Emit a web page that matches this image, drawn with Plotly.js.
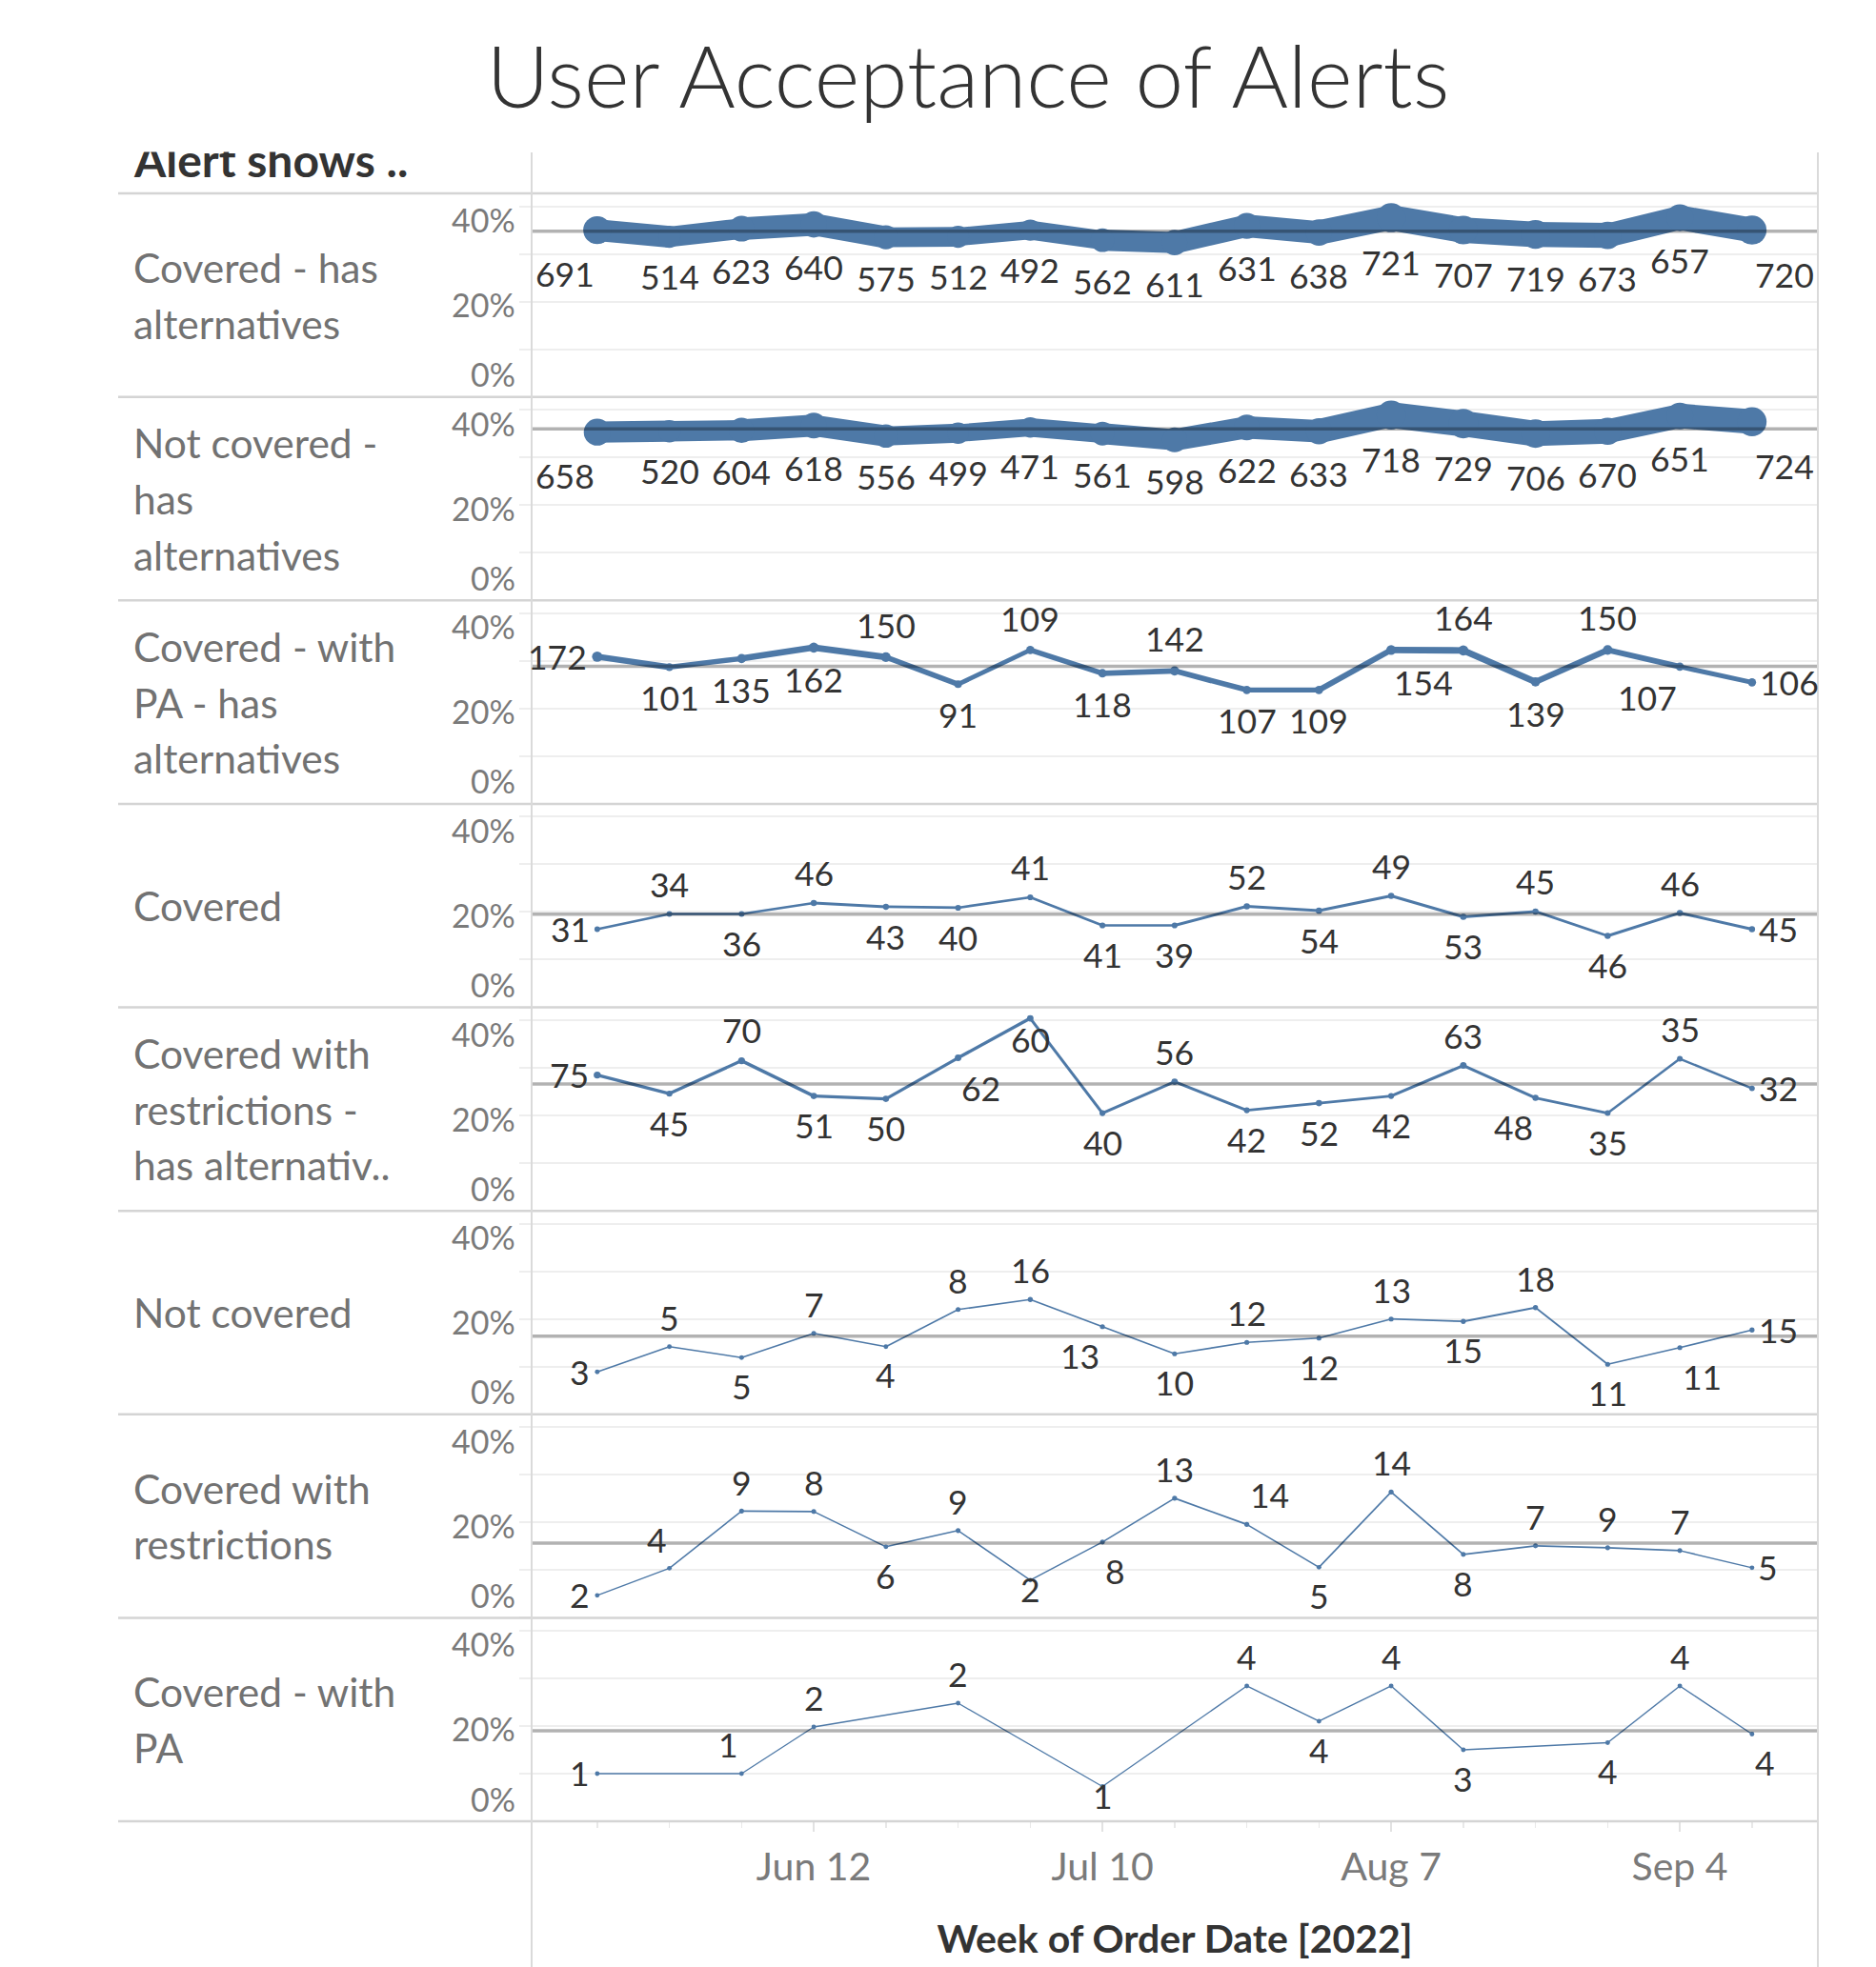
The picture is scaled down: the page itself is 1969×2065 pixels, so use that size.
<!DOCTYPE html>
<html>
<head>
<meta charset="utf-8">
<script src="https://cdn.plot.ly/plotly-3.0.1.min.js"></script>
<style>html,body{margin:0;padding:0;background:#fff;}#chart{width:1969px;height:2065px;}</style>
</head>
<body>
<div id="chart"></div>
<script>
// ---------------- DATA ----------------
const weeks = ['2022-05-22','2022-05-29','2022-06-05','2022-06-12','2022-06-19','2022-06-26','2022-07-03','2022-07-10','2022-07-17','2022-07-24','2022-07-31','2022-08-07','2022-08-14','2022-08-21','2022-08-28','2022-09-04','2022-09-11'];
const weeksCoveredPA = ['2022-05-22','2022-06-05','2022-06-12','2022-06-26','2022-07-10','2022-07-24','2022-07-31','2022-08-07','2022-08-14','2022-08-28','2022-09-04','2022-09-11'];

const categories = ['Covered - has alternatives','Not covered - has alternatives','Covered - with PA - has alternatives','Covered','Covered with restrictions - has alternativ..','Not covered','Covered with restrictions','Covered - with PA'];
const categoryLines = [
  ['Covered - has','alternatives'],
  ['Not covered -','has','alternatives'],
  ['Covered - with','PA - has','alternatives'],
  ['Covered'],
  ['Covered with','restrictions -','has alternativ..'],
  ['Not covered'],
  ['Covered with','restrictions'],
  ['Covered - with','PA']
];

// percentage of alerts accepted (y) and number of alerts (labels / size)
const pctCoveredHasAlt     = [35.0,33.6,35.3,36.2,33.5,33.6,35.0,32.9,32.4,35.9,34.5,37.6,35.0,34.1,33.9,37.6,35.0];
const cntCoveredHasAlt     = [691,514,623,640,575,512,492,562,611,631,638,721,707,719,673,657,720];
const pctNotCoveredHasAlt  = [35.3,35.5,35.7,36.7,34.5,35.1,36.3,35.0,33.7,36.3,35.5,38.9,37.1,35.0,35.5,38.7,37.5];
const cntNotCoveredHasAlt  = [658,520,604,618,556,499,471,561,598,622,633,718,729,706,670,651,724];
const pctCoveredPAHasAlt   = [30.9,28.7,30.5,32.8,30.8,25.1,32.3,27.4,27.9,23.9,23.9,32.3,32.2,25.6,32.3,28.8,25.5];
const cntCoveredPAHasAlt   = [172,101,135,162,150,91,109,118,142,107,109,154,164,139,150,107,106];
const pctCovered           = [16.4,19.6,19.6,21.9,21.1,20.9,23.1,17.2,17.2,21.2,20.3,23.4,19.0,20.1,15.0,19.8,16.4];
const cntCovered           = [31,34,36,46,43,40,41,41,39,52,54,49,53,45,46,46,45];
const pctCoveredRestrHasAlt= [28.5,24.6,31.5,24.1,23.5,32.1,40.4,20.5,27.1,21.1,22.6,24.1,30.5,23.7,20.5,31.9,25.7];
const cntCoveredRestrHasAlt= [75,45,70,51,50,62,60,40,56,42,52,42,63,48,35,35,32];
const pctNotCovered        = [8.9,14.2,11.9,17.0,14.2,22.0,24.1,18.4,12.7,15.1,16.0,20.0,19.5,22.4,10.5,14.0,17.7];
const cntNotCovered        = [3,5,5,7,4,8,16,13,10,12,12,13,15,18,11,11,15];
const pctCoveredRestr      = [4.7,10.4,22.4,22.3,14.9,18.3,7.9,15.9,25.1,19.6,10.6,26.4,13.3,15.1,14.7,14.1,10.5];
const cntCoveredRestr      = [2,4,9,8,6,9,2,8,13,14,5,14,8,7,9,7,5];
const pctCoveredPA         = [10.0,10.0,19.8,24.8,7.3,28.4,21.0,28.4,15.0,16.5,28.4,18.3];
const cntCoveredPA         = [1,1,2,2,1,4,4,4,3,4,4,4];

const yTickVals = [0.4, 0.2, 0];
const yTickText = ['40%','20%','0%'];
const xTickVals = ['2022-06-12','2022-07-10','2022-08-07','2022-09-04'];

// label placement (style only)
const posA = ['bl','b','b','b','b','b','b','b','b','b','b','b','b','b','b','b','br'];
const posB = ['bl','b','b','b','b','b','b','b','b','b','b','b','b','b','b','b','br'];
const posC = ['l','b','b','b','t','b','t','b','t','b','b','br','t','b','t','bl','r'];
const posD = ['l','t','b','t','b','b','t','b','b','t','b','t','b','t','b','t','r'];
const posE = ['l','b','t','b','b','br','ob','b','t','b','b','b','t','bl','b','t','r'];
const posF = ['l','t','b','t','b','t','t','bl','b','t','b','t','b','t','b','br','r'];
const posG = ['l','tl','t','t','b','t','o','br','t','tr','b','t','b','t','t','t','r'];
const posH = ['l','tl','t','t','o','t','b','t','b','b','t','br'];

// ---------------- BUILD ----------------
const panels = [
  {x: weeks, p: pctCoveredHasAlt, c: cntCoveredHasAlt, pos: posA},
  {x: weeks, p: pctNotCoveredHasAlt, c: cntNotCoveredHasAlt, pos: posB},
  {x: weeks, p: pctCoveredPAHasAlt, c: cntCoveredPAHasAlt, pos: posC},
  {x: weeks, p: pctCovered, c: cntCovered, pos: posD},
  {x: weeks, p: pctCoveredRestrHasAlt, c: cntCoveredRestrHasAlt, pos: posE},
  {x: weeks, p: pctNotCovered, c: cntNotCovered, pos: posF},
  {x: weeks, p: pctCoveredRestr, c: cntCoveredRestr, pos: posG},
  {x: weeksCoveredPA, p: pctCoveredPA, c: cntCoveredPA, pos: posH}
];

const BLUE = '#4e79a7';
const FONT = 'Lato, "Open Sans", sans-serif';
const allCounts = panels.flatMap(d => d.c);
const cMin = Math.min(...allCounts), cMax = Math.max(...allCounts);
const lineW = c => 1.3 + 26 * (c - cMin) / (cMax - cMin);
const markS = c => lineW(c) + 3.5;

const N = panels.length;
const traces = [];
const annotations = [];
const shapes = [];
const layout = {
  width: 1969, height: 2065,
  paper_bgcolor: '#ffffff', plot_bgcolor: 'rgba(0,0,0,0)',
  showlegend: false,
  margin: {l: 558, r: 61, t: 203, b: 153, pad: 0},
  hovermode: false,
  title: {
    text: 'User Acceptance of Alerts',
    font: {family: FONT, size: 91, weight: 300, color: '#333333'},
    x: 1016/1969, xref: 'container', xanchor: 'center',
    y: 1 - 81/2065, yref: 'container', yanchor: 'middle'
  },
  xaxis: {
    type: 'date', anchor: 'y8', domain: [0, 1],
    range: ['2022-05-15 15:20', '2022-09-17 09:20'],
    tickmode: 'array', tickvals: xTickVals, tickformat: '%b %-d',
    tickfont: {family: FONT, size: 41, color: '#7a7a7a'},
    ticks: 'outside', ticklen: 10, tickwidth: 1.5, tickcolor: '#e2e2e2', ticklabelstandoff: 2,
    minor: {dtick: 7*86400000, tick0: '2022-05-22', ticks: 'outside', ticklen: 6, tickwidth: 1.5, tickcolor: '#e8e8e8', showgrid: false},
    showgrid: false, zeroline: false, showline: false, automargin: false,
    title: {text: 'Week of Order Date [2022]', font: {family: FONT, size: 41, weight: 'bold', color: '#333333'}, standoff: 39}
  }
};

panels.forEach((d, k) => {
  const ax = k === 0 ? 'y' : 'y' + (k + 1);
  const axName = k === 0 ? 'yaxis' : 'yaxis' + (k + 1);
  layout[axName] = {
    domain: [1 - (k + 1)/N, 1 - k/N], anchor: 'x',
    range: [0, 0.4272], tick0: 0, dtick: 0.1,
    showticklabels: false, ticks: 'outside', ticklen: 12, tickwidth: 2, tickcolor: '#eeeeee',
    showgrid: true, gridcolor: '#eeeeee', gridwidth: 2,
    zeroline: false, showline: false, fixedrange: true
  };
  const y = d.p.map(v => v / 100);
  // segments with width from size encoding
  for (let i = 0; i < d.x.length - 1; i++) {
    traces.push({
      type: 'scatter', mode: 'lines', x: [d.x[i], d.x[i+1]], y: [y[i], y[i+1]],
      xaxis: 'x', yaxis: ax, hoverinfo: 'skip', opacity: 1,
      line: {color: BLUE, width: (lineW(d.c[i]) + lineW(d.c[i+1])) / 2}
    });
  }
  traces.push({
    type: 'scatter', mode: 'markers', x: d.x, y: y, xaxis: 'x', yaxis: ax, hoverinfo: 'skip', opacity: 1,
    marker: {color: BLUE, size: d.c.map(markS), opacity: 1, line: {width: 0}}
  });
  // average reference line
  const mean = y.reduce((a, b) => a + b, 0) / y.length;
  shapes.push({type: 'line', xref: 'paper', x0: 0, x1: 1, yref: ax, y0: mean, y1: mean,
    line: {color: 'rgba(0,0,0,0.3)', width: 3.5}, layer: 'above'});
  // data labels
  d.c.forEach((c, i) => {
    const ms = markS(c);
    const off = 27 + 0.65 * ms;
    const p = d.pos[i];
    let xa = 'center', xs = 0, ys = 0;
    if (p === 'b') ys = -off;
    else if (p === 't') ys = off;
    else if (p === 'l') { xa = 'right'; xs = -(ms/2 + 4); }
    else if (p === 'r') { xa = 'left'; xs = ms/2 + 3; }
    else if (p === 'bl') { xa = 'right'; xs = -2; ys = -off; }
    else if (p === 'br') { xa = 'left'; xs = 2; ys = -off; }
    else if (p === 'tl') { xa = 'right'; xs = -2; ys = off; }
    else if (p === 'tr') { xa = 'left'; xs = 2; ys = off; }
    else if (p === 'o') ys = -10;
    else if (p === 'ob') ys = -22;
    annotations.push({
      x: d.x[i], y: y[i], xref: 'x', yref: ax, text: String(c), showarrow: false,
      xanchor: xa, yanchor: 'middle', xshift: xs, yshift: ys, borderpad: 0,
      font: {family: FONT, size: 35.5, color: '#333333'}
    });
  });
  // y tick labels
  const tickShift = [-14, -3, 24];
  yTickVals.forEach((v, j) => {
    annotations.push({
      x: -16/1350, xref: 'paper', y: v, yref: ax, text: yTickText[j], showarrow: false,
      xanchor: 'right', yanchor: 'middle', yshift: tickShift[j], borderpad: 0,
      font: {family: FONT, size: 34, color: '#7a7a7a'}
    });
  });
  // row header
  const lines = categoryLines[k];
  const yc = 1 - (k + 0.5)/N;
  lines.forEach((t, j) => {
    annotations.push({
      x: (139 - 558)/1350, xref: 'paper', y: yc, yref: 'paper', text: t, showarrow: false,
      xanchor: 'left', yanchor: 'middle', yshift: -(j - (lines.length - 1)/2) * 58.6, borderpad: 0,
      font: {family: FONT, size: 42.5, color: '#727272'}
    });
  });
});

// column header (top clipped like the reference pane)
annotations.push({
  x: (139 - 558)/1350, xref: 'paper', y: (1912 - 168)/1709, yref: 'paper', text: 'Alert shows ..',
  showarrow: false, xanchor: 'left', yanchor: 'middle', borderpad: 0,
  font: {family: FONT, size: 48, weight: 'bold', color: '#333333'}
});
annotations.push({
  x: (120 - 558)/1350, xref: 'paper', y: (1912 - 160)/1709, yref: 'paper', text: ' ',
  showarrow: false, xanchor: 'left', yanchor: 'bottom', borderpad: 0,
  width: 430, height: 36, bgcolor: '#ffffff', font: {size: 10}
});

// row separators
for (let k = 0; k <= N; k++) {
  shapes.push({type: 'line', xref: 'paper', yref: 'paper', x0: (124 - 558)/1350, x1: 1, y0: 1 - k/N, y1: 1 - k/N,
    line: {color: '#d4d4d4', width: 2.5}, layer: 'above'});
}
// pane borders
[0, 1].forEach(xv => {
  shapes.push({type: 'line', xref: 'paper', yref: 'paper', x0: xv, x1: xv, y0: (1912 - 160)/1709, y1: (1912 - 2065)/1709,
    line: {color: '#dadada', width: 2}, layer: 'above'});
});

layout.shapes = shapes;
layout.annotations = annotations;

Plotly.newPlot('chart', traces, layout, {displayModeBar: false, staticPlot: true});
</script>
</body>
</html>
